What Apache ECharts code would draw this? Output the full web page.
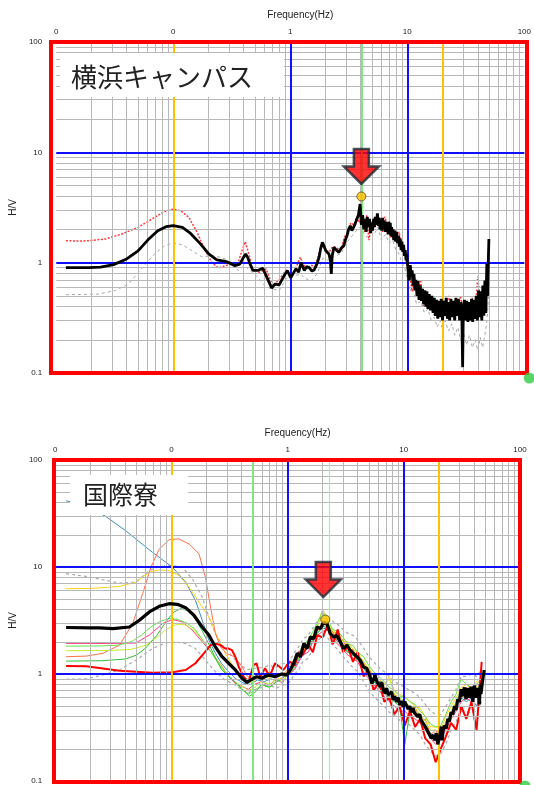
<!DOCTYPE html>
<html><head><meta charset="utf-8">
<script src="https://cdn.jsdelivr.net/npm/echarts@6/dist/echarts.min.js"></script>
<style>html,body{margin:0;padding:0;background:#fff}#c{width:534px;height:785px}</style>
</head><body><div id="c"></div>
<script>
// ---------- DATA ----------
// Panel 1 : 横浜キャンパス  ([frequency Hz, H/V])
const topMean = [[0.0121,0.90],[0.015,0.90],[0.019,0.90],[0.0239,0.91],[0.0309,0.96],[0.04,1.08],[0.05,1.28],[0.0608,1.61],[0.0738,1.95],[0.0867,2.12],[0.1,2.17],[0.1197,2.09],[0.1406,1.84],[0.1708,1.48],[0.2009,1.20],[0.2357,1.06],[0.286,1.02],[0.3365,0.94],[0.37,0.97],[0.395,1.10],[0.416,1.20],[0.435,1.10],[0.45,0.99],[0.479,0.85],[0.528,0.85],[0.582,0.89],[0.641,0.71],[0.692,0.59],[0.743,0.64],[0.803,0.63],[0.885,0.76],[0.944,0.85],[1.007,0.73],[1.06,0.80],[1.12,0.88],[1.18,0.82],[1.237,1.0],[1.318,0.85],[1.38,0.92],[1.453,0.90],[1.53,0.84],[1.60,0.86],[1.686,0.97],[1.763,1.12],[1.82,1.35],[1.88,1.53],[1.95,1.40],[2.01,1.28],[2.08,1.32],[2.14,1.2],[2.20,1.05],[2.24,0.79],[2.28,1.15],[2.36,1.38],[2.48,1.30],[2.60,1.24],[2.72,1.35],[2.86,1.42],[2.95,1.60],[3.05,1.75],[3.15,2.0],[3.26,2.16],[3.36,1.95],[3.47,2.09],[3.58,2.25],[3.70,2.32],[3.82,2.7],[3.95,3.4],[4.05,2.2],[4.15,2.7],[4.25,2.0],[4.35,2.5],[4.45,1.9],[4.55,2.6],[4.65,2.1],[4.75,2.5],[4.85,1.85],[4.95,2.3],[5.05,1.95],[5.15,2.5],[5.25,2.1],[5.35,2.6],[5.45,2.2],[5.55,2.8],[5.65,2.15],[5.75,2.55],[5.85,2.0],[5.95,2.45],[6.05,1.95],[6.15,2.55],[6.25,2.05],[6.35,2.4],[6.45,1.9],[6.55,2.35],[6.65,1.95],[6.75,2.3],[6.85,1.8],[6.95,2.35],[7.05,1.95],[7.15,2.3],[7.25,1.75],[7.35,2.1],[7.45,1.7],[7.55,2.0],[7.65,1.6],[7.8,1.95],[7.95,1.55],[8.1,1.9],[8.25,1.5],[8.4,1.75],[8.55,1.4],[8.7,1.65],[8.85,1.3],[9.0,1.55],[9.15,1.25],[9.3,1.45],[9.45,1.15],[9.6,1.3],[9.75,1.05],[9.9,1.2],[10.0,1.04],[10.2,0.8],[10.4,0.69],[10.6,0.95],[10.8,0.75],[11.0,0.85],[11.2,0.62],[11.4,0.79],[11.6,0.56],[11.85,0.7],[12.1,0.5],[12.35,0.68],[12.6,0.46],[12.9,0.62],[13.2,0.45],[13.5,0.58],[13.8,0.42],[14.1,0.56],[14.4,0.4],[14.7,0.55],[15.0,0.38],[15.4,0.52],[15.8,0.37],[16.2,0.5],[16.6,0.35],[17.0,0.48],[17.4,0.33],[17.8,0.46],[18.2,0.31],[18.6,0.45],[19.0,0.32],[19.5,0.47],[20.0,0.3],[20.5,0.45],[21.0,0.33],[21.5,0.48],[22.0,0.31],[22.5,0.44],[23.0,0.3],[23.6,0.47],[24.2,0.32],[24.8,0.45],[25.4,0.3],[26.0,0.48],[26.6,0.33],[27.3,0.47],[28.0,0.3],[28.7,0.44],[29.3,0.3],[29.7,0.113],[30.1,0.37],[30.8,0.46],[31.5,0.3],[32.2,0.45],[33.0,0.29],[33.8,0.44],[34.6,0.3],[35.4,0.47],[36.2,0.29],[37.0,0.46],[37.9,0.31],[38.8,0.5],[39.7,0.3],[40.6,0.56],[41.5,0.32],[42.4,0.55],[43.3,0.3],[44.2,0.62],[45.1,0.33],[46.0,0.69],[46.9,0.35],[47.8,0.97],[48.6,0.5],[49.3,1.1],[49.8,1.64]];
const topUpper = [[0.0121,1.58],[0.016,1.57],[0.019,1.58],[0.0263,1.64],[0.0363,1.82],[0.05,2.09],[0.0692,2.57],[0.084,2.91],[0.1,3.06],[0.116,2.95],[0.136,2.57],[0.16,1.88],[0.188,1.28],[0.214,1.0],[0.244,0.895],[0.277,0.94],[0.315,0.97],[0.359,1.0],[0.382,1.24],[0.413,1.55],[0.45,1.12],[0.479,0.85],[0.546,0.82],[0.621,0.877],[0.706,0.62],[0.803,0.70],[0.914,0.85],[1.04,0.76],[1.22,1.12],[1.30,0.95],[1.40,0.88],[1.50,0.95],[1.65,0.92],[1.75,1.2],[1.88,1.45],[2.0,1.3],[2.15,1.25],[2.3,1.4],[2.5,1.35],[2.7,1.3],[2.9,1.7],[3.1,1.9],[3.3,2.3],[3.5,2.2],[3.7,2.6],[3.9,2.3],[4.1,2.5],[4.3,1.9],[4.5,2.7],[4.7,1.6],[4.9,2.2],[5.2,2.6],[5.5,2.4],[5.8,2.6],[6.1,1.9],[6.4,2.6],[6.8,2.2],[7.2,1.7],[7.6,2.0],[8.0,1.6],[8.5,1.9],[9.0,1.4],[9.5,1.3],[10.0,0.9],[10.5,0.75],[11.0,0.55],[11.5,0.75],[12.0,0.6],[12.5,0.48],[13.0,0.7],[13.7,0.4],[14.5,0.55],[15.2,0.38],[16.0,0.5],[17.0,0.33],[18.0,0.45],[19.0,0.32],[20.0,0.45],[21.0,0.4],[22.5,0.5],[24.0,0.33],[25.5,0.45],[27.0,0.38],[28.5,0.5],[30.0,0.36],[32.0,0.42],[34.0,0.33],[36.0,0.48],[38.0,0.36],[40.0,0.75],[42.0,0.45],[44.0,0.55],[46.0,0.5],[48.0,0.6],[49.5,1.3]];
const topLower = [[0.0121,0.513],[0.016,0.515],[0.0231,0.52],[0.032,0.56],[0.0413,0.64],[0.0535,0.877],[0.0692,1.2],[0.084,1.42],[0.1,1.51],[0.12,1.45],[0.145,1.28],[0.176,1.13],[0.214,1.16],[0.251,1.12],[0.305,1.04],[0.359,0.85],[0.408,0.94],[0.45,0.85],[0.512,0.76],[0.621,0.60],[0.803,0.56],[0.914,0.71],[1.22,0.79],[1.35,0.72],[1.5,0.68],[1.7,0.8],[1.9,1.1],[2.1,1.05],[2.4,1.15],[2.7,1.2],[3.0,1.5],[3.3,1.7],[3.6,1.9],[3.9,2.1],[4.2,1.9],[4.5,1.7],[4.8,2.0],[5.2,1.8],[5.6,2.1],[6.0,1.6],[6.5,1.8],[7.0,1.5],[7.5,1.6],[8.0,1.3],[8.5,1.2],[9.0,1.0],[9.5,0.9],[10.0,0.7],[10.5,0.55],[11.0,0.6],[12.0,0.42],[13.0,0.45],[14.0,0.35],[15.0,0.38],[16.0,0.3],[17.0,0.32],[18.0,0.26],[19.0,0.3],[20.0,0.25],[21.0,0.3],[22.5,0.24],[24.0,0.28],[25.5,0.22],[27.0,0.26],[28.5,0.2],[30.0,0.24],[32.0,0.18],[34.0,0.22],[36.0,0.17],[38.0,0.2],[40.0,0.16],[42.0,0.21],[44.0,0.17],[46.0,0.22],[48.0,0.3],[49.5,0.5]];
const topPeak = [4.05, 3.98];
const topGreenX = [4.05];

// Panel 2 : 国際寮
const bMeanF = [0.0124,0.02,0.0241,0.0313,0.0435,0.053,0.0645,0.0785,0.0955,0.1125,0.1325,0.156,0.184,0.21,0.239,0.273,0.311,0.355,0.405,0.446,0.492,0.543,0.60,0.684,0.778,0.889,0.98,1.04,1.13,1.21,1.29,1.38,1.47,1.57,1.68,1.79,1.92,2.04,2.18,2.33,2.49,2.66,2.84,3.03,3.24,3.45,3.69,3.94,4.21,4.49,4.8,5.12,5.3,5.47,5.65,5.84,6.04,6.24,6.45,6.66,6.9,7.11,7.35,7.59,7.85,8.1,8.35,8.65,8.95,9.25,9.55,9.87,10.2,10.5,10.9,11.25,11.6,12.0,12.4,12.8,13.2,13.7,14.1,14.6,15.1,15.6,16.1,16.7,17.2,17.8,18.4,19.0,19.6,20.3,21.0,21.4,21.7,22.4,23.2,23.9,24.7,25.5,26.4,27.3,28.2,29.1,30.1,31.1,32.1,33.2,34.3,35.4,36.6,37.9,39.2,40.5,41.8,43.2,44.7,45.5,46.1,47.5,49.2];
const bMeanV = [2.72,2.70,2.70,2.66,2.75,3.18,3.8,4.29,4.54,4.48,4.17,3.54,2.75,2.31,1.79,1.45,1.26,1.09,0.912,0.837,0.893,0.944,0.912,0.979,0.944,1.0,0.98,1.06,1.26,1.56,1.45,1.93,1.73,2.22,2.15,2.75,2.66,3.07,2.96,2.39,2.22,2.29,2.0,1.73,1.86,1.67,1.56,1.45,1.35,1.17,1.13,0.944,0.82,0.88,0.98,0.86,0.80,0.762,0.84,0.71,0.66,0.737,0.64,0.615,0.68,0.573,0.62,0.55,0.60,0.515,0.56,0.49,0.55,0.515,0.47,0.5,0.44,0.48,0.43,0.446,0.40,0.42,0.37,0.373,0.33,0.34,0.29,0.30,0.25,0.27,0.24,0.28,0.22,0.26,0.323,0.24,0.29,0.33,0.31,0.38,0.36,0.44,0.42,0.50,0.46,0.58,0.55,0.72,0.62,0.75,0.58,0.74,0.60,0.76,0.55,0.78,0.60,0.74,0.52,0.80,0.65,0.85,1.09];

// shared high-frequency sampling for the individual records
const bHF = [1.05,1.15,1.25,1.35,1.5,1.65,1.8,2.0,2.2,2.45,2.7,3.0,3.3,3.65,4.0,4.5,5.0,5.5,6.1,6.8,7.5,8.3,9.2,10.2,11.3,12.5,13.8,15.3,17.0,18.8,20.8,23.0,25.5,28.2,31.2,34.5,38.2,42.3,46.8];

const bUpperLF_F = [0.0124,0.0185,0.0257,0.0357,0.0495,0.0645,0.0785,0.102,0.124,0.151,0.184,0.21,0.239,0.27,0.31,0.355,0.4,0.45,0.5,0.6,0.7,0.8,0.9,0.97];
const bUpperLF_V = [8.66,8.16,7.6,7.07,7.22,9.27,10.1,10.3,9.96,7.77,5.24,3.41,2.39,1.9,1.6,1.35,1.2,1.1,1.12,1.15,1.2,1.15,1.25,1.25];
const bUpperHF = [1.35,1.6,1.8,2.1,2.3,2.7,3.1,3.5,3.6,3.1,2.9,2.6,2.4,2.3,2.1,1.75,1.45,1.3,1.15,1.05,0.95,0.85,0.8,0.75,0.7,0.66,0.6,0.52,0.45,0.42,0.42,0.5,0.6,0.72,0.95,0.95,1.0,0.95,1.1];

const bLowerLF_F = [0.0124,0.0185,0.0257,0.0357,0.0495,0.0688,0.0894,0.108,0.1325,0.161,0.196,0.239,0.29,0.355,0.4,0.45,0.5,0.6,0.7,0.8,0.9,0.97];
const bLowerLF_V = [0.893,0.9,0.98,1.09,1.35,1.73,1.96,1.99,1.93,1.73,1.35,1.05,0.88,0.79,0.72,0.66,0.7,0.75,0.78,0.74,0.78,0.8];
const bLowerHF = [0.85,1.0,1.1,1.3,1.4,1.7,2.0,2.3,2.2,1.85,1.7,1.45,1.3,1.15,1.05,0.85,0.7,0.62,0.55,0.5,0.44,0.41,0.37,0.36,0.33,0.3,0.27,0.22,0.19,0.17,0.18,0.22,0.3,0.36,0.45,0.45,0.43,0.45,0.55];

const tealLF_F = [0.0124,0.0137,0.0267,0.04,0.0688,0.102,0.1325,0.161,0.184,0.21,0.239,0.27,0.31,0.36,0.42,0.48,0.55,0.63,0.72,0.82,0.93];
const tealLF_V = [41.6,40.5,30.1,22.0,13.7,9.96,7.22,4.88,3.18,2.07,1.57,1.25,1.05,0.9,0.82,0.8,0.88,0.85,0.9,0.85,0.95];
const tealHF = [1.0,1.15,1.35,1.55,1.75,2.0,2.4,2.7,2.6,2.2,2.0,1.75,1.6,1.5,1.4,1.15,0.95,0.85,0.78,0.68,0.62,0.58,0.52,0.5,0.47,0.44,0.4,0.33,0.28,0.26,0.27,0.34,0.42,0.5,0.6,0.55,0.6,0.5,0.7];

const yellowLF_F = [0.0124,0.02,0.0357,0.0495,0.0645,0.0785,0.0955,0.116,0.142,0.1725,0.21,0.256,0.29,0.33,0.38,0.44,0.5,0.56,0.65,0.75,0.85,0.95];
const yellowLF_V = [6.27,6.3,6.58,7.22,8.96,9.4,9.27,8.33,6.47,4.7,3.41,2.07,1.56,1.25,1.0,0.88,0.82,0.95,0.88,0.98,0.9,0.95];
const yellowHF = [1.0,1.3,1.5,1.6,2.0,2.1,2.8,3.5,3.1,2.4,2.5,2.0,2.0,1.7,1.6,1.3,1.15,0.95,0.9,0.8,0.95,0.7,0.65,0.6,0.55,0.5,0.48,0.4,0.32,0.32,0.3,0.4,0.5,0.6,0.75,0.8,0.72,0.85,0.95];

const orangeLF_F = [0.0124,0.0185,0.0257,0.0357,0.0464,0.0565,0.0666,0.0785,0.0955,0.116,0.142,0.1725,0.196,0.217,0.239,0.264,0.3,0.35,0.4,0.45,0.5,0.55,0.62,0.7,0.8,0.9,0.97];
const orangeLF_V = [1.45,1.47,1.56,1.86,2.96,5.63,9.96,14.7,18.0,18.3,16.4,13.3,8.05,4.23,2.39,1.79,1.55,1.45,1.2,0.95,0.9,1.0,0.95,1.05,0.95,1.0,1.05];
const orangeHF = [1.2,1.4,1.5,1.9,2.0,2.3,2.5,3.0,2.7,2.5,2.0,2.1,1.6,1.7,1.3,1.3,0.95,1.0,0.75,0.75,0.58,0.65,0.5,0.55,0.42,0.5,0.36,0.38,0.27,0.3,0.24,0.36,0.4,0.55,0.58,0.75,0.6,0.8,0.9];

const pinkLF_F = [0.0124,0.03,0.0495,0.0645,0.084,0.102,0.124,0.151,0.184,0.224,0.273,0.311,0.36,0.42,0.46,0.52,0.6,0.7,0.8,0.9,0.97];
const pinkLF_V = [1.93,1.93,1.95,2.31,2.96,3.23,3.07,2.57,2.0,1.56,1.17,0.944,0.8,0.75,0.72,0.8,0.85,0.78,0.9,0.82,0.95];
const pinkHF = [1.0,1.1,1.3,1.5,1.6,2.0,2.3,2.5,2.6,2.1,1.9,1.7,1.5,1.4,1.3,1.05,0.9,0.8,0.7,0.62,0.55,0.5,0.45,0.45,0.4,0.38,0.35,0.3,0.25,0.22,0.25,0.3,0.38,0.45,0.55,0.6,0.55,0.62,0.7];

const ltGreenLF_F = [0.0124,0.025,0.035,0.045,0.055,0.0666,0.08,0.0955,0.112,0.135,0.16,0.19,0.22,0.26,0.3,0.35,0.4,0.46,0.52,0.6,0.7,0.8,0.9,0.97];
const ltGreenLF_V = [1.82,1.83,1.86,2.0,2.3,2.75,3.1,3.3,3.25,3.0,2.6,2.0,1.6,1.2,1.0,0.85,0.72,0.65,0.7,0.8,0.75,0.85,0.9,1.0];
const ltGreenHF = [1.15,1.4,1.6,1.8,2.1,2.5,3.0,3.8,3.2,2.6,2.5,2.2,1.9,1.85,1.6,1.45,1.2,1.05,0.95,0.85,0.75,0.7,0.62,0.62,0.55,0.52,0.45,0.4,0.34,0.32,0.33,0.42,0.55,0.65,0.9,0.8,0.75,0.8,0.9];

const yGreenLF_F = [0.0124,0.03,0.045,0.06,0.075,0.09,0.105,0.116,0.135,0.16,0.19,0.22,0.26,0.3,0.35,0.4,0.46,0.52,0.6,0.7,0.8,0.9,0.97];
const yGreenLF_V = [1.65,1.66,1.7,1.85,2.2,2.6,2.85,2.92,2.85,2.5,2.0,1.6,1.25,1.0,0.85,0.78,0.7,0.75,0.85,0.8,0.9,0.85,0.95];
const yGreenHF = [1.0,1.2,1.4,1.7,1.9,2.3,2.9,4.0,3.3,2.5,2.4,2.0,1.9,1.6,1.5,1.3,1.1,1.0,0.85,0.78,0.9,0.65,0.6,0.55,0.5,0.48,0.42,0.36,0.3,0.3,0.28,0.35,0.45,0.55,0.7,0.7,0.65,0.75,0.8];

const greenLF_F = [0.0124,0.025,0.04,0.05,0.06,0.075,0.09,0.105,0.12,0.14,0.16,0.185,0.21,0.24,0.27,0.31,0.36,0.42,0.47,0.53,0.6,0.7,0.8,0.9,0.97];
const greenLF_V = [1.32,1.33,1.38,1.5,1.75,2.3,3.1,3.8,4.08,3.9,3.3,2.5,1.9,1.4,1.1,0.95,0.82,0.7,0.62,0.68,0.8,0.75,0.85,0.9,1.0];
const greenHF = [1.05,1.25,1.4,1.6,1.8,2.1,2.4,2.8,2.7,2.2,2.1,1.8,1.6,1.5,1.35,1.15,0.95,0.85,0.75,0.65,0.6,0.55,0.5,0.22,0.45,0.42,0.38,0.33,0.27,0.25,0.26,0.33,0.42,0.5,0.62,0.65,0.6,0.7,0.8];

const redLF_F = [0.0124,0.0185,0.0357,0.0688,0.102,0.1325,0.161,0.19,0.217,0.239,0.264,0.29,0.311,0.332,0.355,0.379,0.418,0.461,0.509,0.54,0.58,0.64,0.7,0.778,0.84,0.92,0.98];
const redLF_V = [1.19,1.18,1.07,1.03,1.04,1.09,1.26,1.56,1.86,1.93,1.86,1.73,1.73,1.67,1.45,1.17,0.944,0.848,1.21,1.26,0.944,1.13,0.944,1.26,1.18,1.09,1.2];
const redHF = [1.3,1.2,1.6,1.5,1.9,1.6,2.3,2.2,2.8,1.9,2.6,1.6,1.8,1.3,1.6,0.95,1.1,0.7,0.85,0.55,0.6,0.42,0.5,0.33,0.45,0.32,0.38,0.25,0.22,0.15,0.2,0.26,0.35,0.3,0.5,0.38,0.55,0.3,1.3];

const botPeak = [2.11, 3.23];
const botGreenX = [0.5, 2.28];

// reference lines
const blueLines = [1, 10];
const orangeX = [0.1, 20];
const cornerPt = [100, 0.1];

// ---------- LAYOUT ----------
const G1 = {left:51, top:42, width:476, height:331};
const G2 = {left:54, top:460, width:466, height:322};
const FONT = 'Liberation Sans';

function zip(f, v){ return f.map((x,i)=>[x, v[i]]); }
function rec(lf, lv, hv){ return zip(lf, lv).concat(zip(bHF, hv)); }
function minor(e0, e1){ const a=[]; for(let e=e0;e<e1;e++) for(let k=2;k<=9;k++) a.push(+(k*Math.pow(10,e)).toPrecision(3)); return a; }

function gridLines(gi, greens){
  const d = [];
  const gs = {color:'#b8b8b8', width:1, type:'solid'};
  minor(-2,2).forEach(v=>d.push({xAxis:v, lineStyle:gs}));
  minor(-1,2).forEach(v=>d.push({yAxis:v, lineStyle:gs}));
  blueLines.forEach(v=>d.push({xAxis:v, lineStyle:{color:'#1010ff', width:2, type:'solid'}}));
  blueLines.forEach(v=>d.push({yAxis:v, lineStyle:{color:'#1010ff', width:2, type:'solid'}}));
  orangeX.forEach(v=>d.push({xAxis:v, lineStyle:{color:'#ffc000', width:2, type:'solid'}}));
  greens.forEach((v,i)=>d.push({xAxis:v, lineStyle:{color: i===0 ? '#7ee87e' : '#a8f0a8', width: i===0 ? 2 : 1.2, type:'solid'}}));
  return {type:'line', xAxisIndex:gi, yAxisIndex:gi, data:[], z:1, silent:true, animation:false,
    markLine:{silent:true, symbol:['none','none'], label:{show:false}, animation:false, data:d}};
}
function L(gi, data, color, width, type, z){
  return {type:'line', xAxisIndex:gi, yAxisIndex:gi, data, symbol:'none', showSymbol:false, silent:true,
    animation:false, lineStyle:{color, width, type:type||'solid'}, z:z||3};
}
const ARROW = 'path://M-7.5,-17.5L7.5,-17.5L7.5,0L17.5,0L0,17.5L-17.5,0L-7.5,0Z';
function peak(gi, p, offY, offX){
  return [
    {type:'scatter', xAxisIndex:gi, yAxisIndex:gi, data:[p], symbol:'circle', symbolSize:9, clip:false, silent:true, animation:false,
      itemStyle:{color:'#ffc000', borderColor:'#5a4a20', borderWidth:1}, z:20},
    {type:'scatter', xAxisIndex:gi, yAxisIndex:gi, data:[p], symbol:ARROW, symbolSize:[35,35], symbolOffset:[offX, offY], clip:false, silent:true, animation:false,
      itemStyle:{color:'#ff0000', borderColor:'#1c2b36', borderWidth:2.5}, z:21},
    {type:'scatter', xAxisIndex:gi, yAxisIndex:gi, data:[cornerPt], symbol:'circle', symbolSize:11, symbolOffset:[5,5], clip:false, silent:true, animation:false,
      itemStyle:{color:'#2ecc40'}, z:120}
  ];
}
function xAx(gi){
  return {type:'log', logBase:10, min:0.01, max:100, gridIndex:gi, position:'top',
    axisLine:{show:false}, axisTick:{show:false}, splitLine:{show:false},
    axisLabel:{fontSize:8, color:'#222', fontFamily:FONT, margin:6, formatter:v=> v<0.99 ? '0' : String(Math.round(v))},
    name:'Frequency(Hz)', nameLocation:'middle', nameGap:22,
    nameTextStyle:{fontSize:10, color:'#222', fontFamily:FONT, padding:[0,0,0,20]}};
}
function yAx(gi, gap, margin){
  return {type:'log', logBase:10, min:0.1, max:100, gridIndex:gi,
    axisLine:{show:false}, axisTick:{show:false}, splitLine:{show:false},
    axisLabel:{fontSize:8, color:'#222', fontFamily:FONT, margin:margin, formatter:v=> v<0.99 ? '0.1' : String(Math.round(v))},
    name:'H/V', nameLocation:'middle', nameRotate:90, nameGap:gap,
    nameTextStyle:{fontSize:10, color:'#222', fontFamily:FONT}};
}

const series = [
  gridLines(0, topGreenX),
  L(0, topLower, '#a8a8a8', 1, [3,3], 3),
  L(0, topUpper, '#ff3a3a', 1.5, [2,1.5], 4),
  L(0, topMean, '#000000', 2.8, 'solid', 5),
  ...peak(0, topPeak, -30, 0),

  gridLines(1, botGreenX),
  L(1, rec(bLowerLF_F, bLowerLF_V, bLowerHF), '#a8a8a8', 1.2, [3,3], 3),
  L(1, rec(bUpperLF_F, bUpperLF_V, bUpperHF), '#a8a8a8', 1.2, [3,3], 3),
  L(1, rec(tealLF_F, tealLF_V, tealHF), '#3a8fb7', 1, 'solid', 3),
  L(1, rec(yellowLF_F, yellowLF_V, yellowHF), '#ffd21a', 1, 'solid', 3),
  L(1, rec(orangeLF_F, orangeLF_V, orangeHF), '#ff7048', 1, 'solid', 3),
  L(1, rec(pinkLF_F, pinkLF_V, pinkHF), '#ff3f86', 1, 'solid', 3),
  L(1, rec(yGreenLF_F, yGreenLF_V, yGreenHF), '#c6ee2a', 1, 'solid', 3),
  L(1, rec(ltGreenLF_F, ltGreenLF_V, ltGreenHF), '#66e044', 1, 'solid', 3),
  L(1, rec(greenLF_F, greenLF_V, greenHF), '#2fc03a', 1, 'solid', 3),
  L(1, rec(redLF_F, redLF_V, redHF), '#ff0000', 2, 'solid', 4),
  L(1, zip(bMeanF, bMeanV), '#000000', 3.2, 'solid', 5),
  ...peak(1, botPeak, -40, -2)
];

const option = {
  backgroundColor:'#ffffff',
  animation:false,
  textStyle:{fontFamily:FONT},
  grid:[
    {left:G1.left, top:G1.top, width:G1.width, height:G1.height, containLabel:false},
    {left:G2.left, top:G2.top, width:G2.width, height:G2.height, containLabel:false}
  ],
  xAxis:[xAx(0), xAx(1)],
  yAxis:[yAx(0, 36, 14), yAx(1, 34, 13)],
  series,
  graphic:[
    {type:'rect', shape:{x:60, y:53, width:224, height:44}, style:{fill:'#ffffff'}, z:100, silent:true},
    {type:'text', x:71, y:77, style:{text:'横浜キャンパス', fontSize:26, fontFamily:'Noto Sans CJK JP', fill:'#222', verticalAlign:'middle'}, z:101, silent:true},
    {type:'rect', shape:{x:70, y:475, width:118, height:40}, style:{fill:'#ffffff'}, z:100, silent:true},
    {type:'text', x:83, y:494, style:{text:'国際寮', fontSize:25, fontFamily:'Noto Sans CJK JP', fill:'#222', verticalAlign:'middle'}, z:101, silent:true},
    {type:'rect', shape:{x:G1.left, y:G1.top, width:G1.width, height:G1.height}, style:{fill:'none', stroke:'#ff0000', lineWidth:4}, z:110, silent:true},
    {type:'rect', shape:{x:G2.left, y:G2.top, width:G2.width, height:G2.height}, style:{fill:'none', stroke:'#ff0000', lineWidth:4}, z:110, silent:true}
  ]
};
const chart = echarts.init(document.getElementById('c'), null, {renderer:'canvas', width:534, height:785});
chart.setOption(option);
</script></body></html>
